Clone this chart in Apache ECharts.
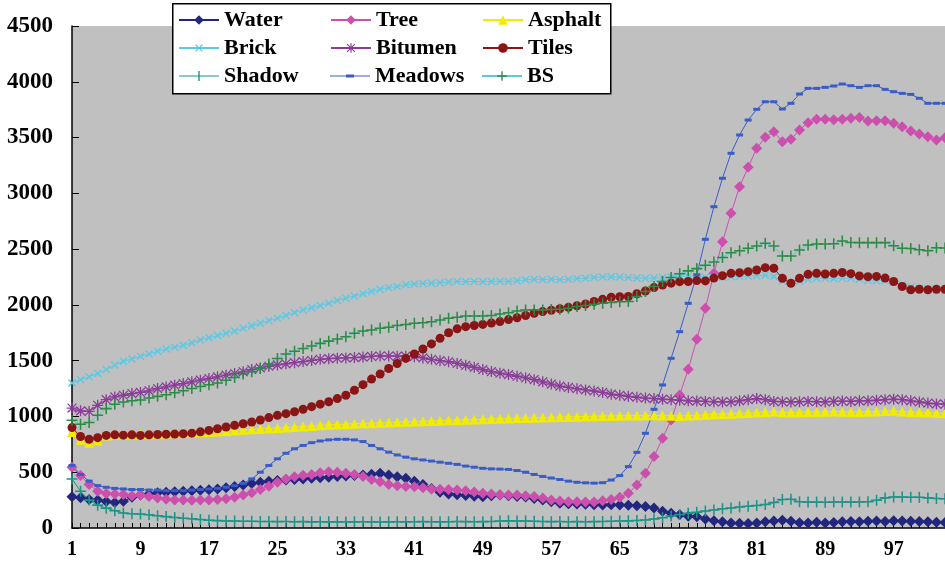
<!DOCTYPE html>
<html>
<head>
<meta charset="utf-8">
<script src="https://cdn.jsdelivr.net/npm/echarts@6/dist/echarts.min.js"></script>
<style>
  html, body { margin: 0; padding: 0; background: #fff; }
  #chart { width: 945px; height: 575px; }
</style>
</head>
<body>
<div id="chart"></div>
<script>
// band index 1..103
var categories = [];
for (var i = 1; i <= 103; i++) categories.push(String(i));

var water = [280,272,255,250,238,228,240,275,295,305,315,320,325,330,335,338,342,350,360,372,
  385,400,410,418,425,430,435,440,445,450,455,462,466,470,476,482,490,475,460,445,
  420,390,355,320,305,298,292,285,280,288,296,290,282,278,265,250,235,222,218,215,
  212,208,206,208,206,205,200,192,180,150,132,118,105,100,80,65,55,45,42,40,
  45,55,62,70,60,48,45,52,45,50,55,58,55,60,62,58,65,62,60,58,55,52,50];

var tree = [545,470,390,330,310,305,300,290,295,282,268,258,252,250,248,250,252,255,262,275,
  295,315,345,375,410,440,460,472,480,495,505,500,490,480,462,435,415,390,378,372,
  370,360,350,348,345,340,335,322,312,305,298,296,296,290,282,268,252,242,236,236,
  234,232,245,255,275,311,385,490,640,804,968,1192,1422,1691,1969,2283,2565,2821,3060,3233,
  3404,3502,3553,3463,3484,3568,3633,3664,3664,3660,3664,3673,3679,3648,3651,3651,3628,3597,3559,3532,
  3508,3478,3499];

var asphalt = [860,790,765,785,830,835,838,840,840,842,845,848,850,852,855,858,860,865,870,875,
  880,885,888,892,896,900,905,910,915,920,925,928,930,935,938,940,943,945,950,952,
  955,958,960,962,965,968,970,972,975,978,980,982,985,986,988,990,992,995,996,998,
  1000,1002,1004,1005,1006,1008,1008,1010,1010,1008,1006,1005,1008,1010,1015,1020,1022,1025,1028,1030,
  1035,1040,1045,1038,1035,1038,1040,1040,1042,1045,1042,1040,1040,1042,1045,1048,1050,1045,1040,1038,
  1035,1030,1028];

var brick = [1300,1330,1355,1385,1420,1460,1495,1515,1540,1560,1585,1605,1620,1638,1660,1685,1705,1725,1745,1765,
  1790,1812,1835,1858,1880,1905,1930,1955,1975,1995,2015,2040,2060,2080,2100,2120,2140,2155,2165,2180,
  2188,2192,2195,2198,2205,2210,2208,2210,2208,2210,2212,2210,2215,2225,2230,2228,2230,2225,2230,2235,
  2238,2245,2250,2252,2250,2245,2240,2238,2240,2245,2250,2255,2258,2255,2250,2248,2250,2252,2255,2258,
  2262,2265,2255,2215,2200,2215,2230,2238,2240,2235,2240,2238,2230,2220,2215,2220,2200,2180,2160,2150,
  2140,2135,2130];

var bitumen = [1075,1050,1045,1100,1150,1175,1190,1205,1215,1230,1250,1265,1280,1295,1310,1325,1340,1355,1370,1385,
  1400,1420,1435,1450,1462,1472,1482,1492,1502,1512,1518,1522,1525,1528,1532,1538,1542,1542,1540,1540,
  1536,1525,1512,1500,1490,1475,1458,1440,1420,1402,1388,1375,1360,1345,1330,1310,1290,1272,1260,1248,
  1238,1228,1215,1200,1190,1180,1172,1165,1160,1155,1150,1145,1140,1138,1135,1132,1130,1132,1140,1150,
  1160,1150,1135,1132,1130,1132,1135,1132,1130,1135,1138,1135,1140,1140,1145,1150,1155,1150,1140,1130,
  1120,1112,1110];

var tiles = [900,820,795,810,830,835,832,835,830,835,838,840,842,845,850,862,875,890,905,920,
  935,950,968,990,1010,1025,1042,1065,1088,1110,1132,1160,1190,1235,1285,1335,1380,1430,1475,1520,
  1560,1605,1650,1700,1750,1785,1805,1815,1825,1838,1850,1868,1885,1905,1925,1940,1952,1965,1978,1992,
  2008,2030,2050,2068,2073,2075,2100,2125,2155,2178,2195,2208,2210,2218,2215,2240,2262,2283,2289,2298,
  2313,2334,2328,2238,2193,2238,2274,2283,2277,2283,2290,2280,2260,2253,2255,2240,2210,2165,2135,2140,
  2135,2140,2140];

var shadow = [440,330,250,205,178,155,135,128,125,118,110,102,95,88,82,76,70,66,63,62,
  60,60,58,58,57,58,56,57,55,56,55,55,54,55,56,55,54,55,56,55,
  56,57,56,55,56,58,57,56,57,58,62,64,63,62,60,58,57,58,56,57,
  56,57,58,60,62,64,68,72,80,92,108,120,132,142,152,162,172,180,188,195,
  202,210,228,255,258,235,232,232,230,232,233,232,234,236,248,270,278,278,275,276,
  270,265,262];

var meadows = [560,480,420,380,365,355,350,345,345,340,340,335,335,335,340,345,350,355,365,380,
  400,440,500,560,620,670,710,740,765,780,790,795,795,790,775,740,710,680,655,635,
  620,610,600,590,580,570,555,545,535,530,528,525,515,500,480,462,448,435,420,410,
  405,402,406,430,470,550,678,849,1064,1282,1521,1760,2014,2270,2588,2880,3135,3359,3523,3657,
  3753,3821,3821,3756,3807,3890,3941,3941,3950,3962,3980,3965,3950,3965,3965,3932,3911,3896,3887,3852,
  3807,3807,3807];

var bs = [965,930,945,1010,1070,1110,1130,1140,1148,1165,1180,1195,1212,1230,1250,1268,1285,1300,1325,1350,
  1380,1400,1430,1470,1520,1560,1585,1610,1632,1655,1675,1695,1715,1745,1765,1775,1790,1800,1815,1825,
  1835,1840,1848,1865,1880,1890,1900,1900,1900,1905,1918,1930,1945,1955,1955,1955,1958,1960,1970,1985,
  1995,2005,2015,2022,2028,2030,2075,2120,2165,2210,2245,2280,2305,2325,2355,2385,2425,2468,2486,2507,
  2528,2552,2528,2438,2438,2492,2537,2546,2545,2548,2573,2560,2558,2558,2558,2558,2530,2508,2505,2495,
  2486,2513,2510];

var yTicks = [0, 500, 1000, 1500, 2000, 2500, 3000, 3500, 4000, 4500];

var plusPath = 'path://M4.3,0H5.7V10H4.3Z M0,4.3H10V5.7H0Z';
var starPath = 'path://M4.4,0H5.6V10H4.4Z M0,4.4H10V5.6H0Z M1.4,0.6L9.4,8.6L8.6,9.4L0.6,1.4Z M8.6,0.6L9.4,1.4L1.4,9.4L0.6,8.6Z';
// legend icons (line + small marker) for the two series whose marker differs in the key
var dashIcon = 'path://M0,0h0.1v0.1h-0.1Z M0,5.5H40V6.5H0Z M16,4.5H24V7.5H16Z M0,11.9h0.1v0.1h-0.1Z';
var barIcon = 'path://M0,5.5H40V6.5H0Z M19.3,1H20.7V11H19.3Z M0,0h0.1v0.1h-0.1Z M0,11.9h0.1v0.1h-0.1Z';

var font = 'Liberation Serif';

function line(name, data, color, symbol, size, extra) {
  var s = {
    name: name,
    type: 'line',
    data: data,
    symbol: symbol,
    symbolSize: size,
    showSymbol: true,
    showAllSymbol: true,
    lineStyle: { color: color, width: 1 },
    itemStyle: { color: color },
    emphasis: { disabled: true },
    animation: false
  };
  if (extra) {
    for (var k in extra) s[k] = extra[k];
  }
  return s;
}

var option = {
  backgroundColor: '#ffffff',
  animation: false,
  textStyle: { fontFamily: font },
  graphic: [{
    type: 'rect',
    left: 172,
    top: 3,
    z: 10,
    shape: { width: 438, height: 90 },
    style: { fill: '#ffffff', stroke: '#000000', lineWidth: 1.5 }
  }],
  legend: {
    left: 178,
    top: 6,
    width: 460,
    z: 20,
    itemWidth: 40,
    itemHeight: 12,
    itemGap: 0,
    padding: 0,
    textStyle: {
      fontFamily: font,
      fontWeight: 'bold',
      fontSize: 22,
      color: '#000',
      width: 106,
      height: 28,
      lineHeight: 28
    },
    data: ['Water', 'Tree', 'Asphalt', 'Brick', 'Bitumen', 'Tiles',
      { name: 'Shadow', icon: barIcon },
      { name: 'Meadows', icon: dashIcon },
      'BS']
  },
  grid: {
    left: 72,
    top: 26,
    width: 877,
    bottom: 47,
    show: true,
    backgroundColor: '#c0c0c0',
    borderWidth: 0
  },
  xAxis: {
    type: 'category',
    data: categories,
    boundaryGap: false,
    axisLine: { lineStyle: { color: '#000', width: 1.5 } },
    axisTick: { inside: true, interval: 0, length: 5, lineStyle: { color: '#000' } },
    axisLabel: {
      interval: 7,
      margin: 12,
      fontFamily: font,
      fontWeight: 'bold',
      fontSize: 20,
      color: '#000'
    },
    splitLine: { show: false }
  },
  yAxis: {
    type: 'value',
    min: yTicks[0],
    max: yTicks[yTicks.length - 1],
    interval: 500,
    axisLine: { show: true, lineStyle: { color: '#000', width: 1.5 } },
    axisTick: { show: true, inside: true, length: 7, lineStyle: { color: '#000' } },
    axisLabel: {
      margin: 19,
      fontFamily: font,
      fontWeight: 'bold',
      fontSize: 23,
      color: '#000',
      formatter: function (v) { return String(v); }
    },
    splitLine: { show: false }
  },
  series: [
    line('Water', water, '#22267e', 'diamond', 11),
    line('Tree', tree, '#cc4fae', 'diamond', 11),
    line('Asphalt', asphalt, '#f2ec00', 'triangle', 10),
    line('Brick', brick, '#5cc8e4', plusPath, 10, { symbolRotate: 45 }),
    line('Bitumen', bitumen, '#8a3c98', starPath, 11),
    line('Tiles', tiles, '#8b1414', 'circle', 9),
    line('Shadow', shadow, '#1c9488', plusPath, 11),
    line('Meadows', meadows, '#3a5cc8', 'rect', [7, 3]),
    line('BS', bs, '#2e8a44', plusPath, 11, { lineStyle: { color: '#5cc8e4', width: 1 } })
  ]
};

var myChart = echarts.init(document.getElementById('chart'));
myChart.setOption(option);
</script>
</body>
</html>
